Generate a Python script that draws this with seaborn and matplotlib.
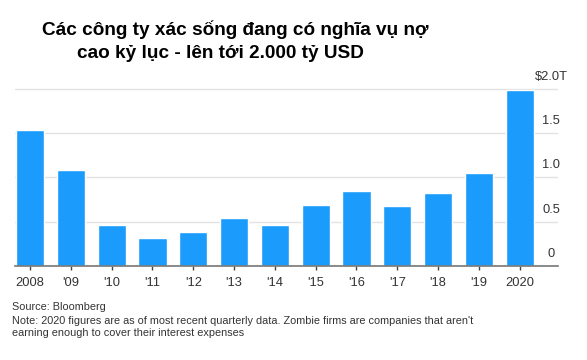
import matplotlib
matplotlib.use("Agg")
import matplotlib.pyplot as plt
import matplotlib.transforms as mtransforms
import pandas as pd
import seaborn as sns

# du lieu doc tu bieu do (nghin ty USD)
years = ["2008", "'09", "'10", "'11", "'12", "'13", "'14", "'15", "'16", "'17", "'18", "'19", "2020"]
debt = [1.54, 1.08, 0.455, 0.316, 0.387, 0.54, 0.455, 0.69, 0.85, 0.677, 0.827, 1.05, 1.985]
ytick_vals = [0, 0.5, 1.0, 1.5, 2.0]
ytick_labels = ["0", "0.5", "1.0", "1.5", "\\$2.0T"]

title_1 = "Các công ty xác sống đang có nghĩa vụ nợ"
title_2 = "cao kỷ lục - lên tới 2.000 tỷ USD"
source = "Source: Bloomberg"
note = ("Note: 2020 figures are as of most recent quarterly data. Zombie firms are companies that aren't\n"
        "earning enough to cover their interest expenses")

sns.set_style("white")
plt.rcParams["font.family"] = ["Liberation Sans", "DejaVu Sans"]

df = pd.DataFrame({"year": years, "debt": debt})

fig = plt.figure(figsize=(5.87, 3.6), dpi=100)
ax = fig.add_axes([15 / 587, 94.3 / 360, 543 / 587, 178.5 / 360])

sns.barplot(data=df, x="year", y="debt", order=years, color="#1b9cfc",
            saturation=1, width=0.69, ax=ax)

ax.set_xlim(-0.37, 12.94)
ax.set_ylim(0, 2.02)
ax.set_xlabel("")
ax.set_ylabel("")

# luoi ngang + nhan truc y ben phai
ax.set_yticks(ytick_vals)
ax.yaxis.grid(True, color="#e3e3e3", linewidth=1)
ax.set_axisbelow(True)
ax.tick_params(axis="y", left=False, right=False, labelleft=False)
off = mtransforms.offset_copy(ax.get_yaxis_transform(), fig=fig, x=0, y=12, units="dots")
for v, lab in zip(ytick_vals, ytick_labels):
    ax.text(0.987, v, lab, transform=off, ha="center", va="center",
            fontsize=9.3, color="#333333")

for s in ["top", "right", "left"]:
    ax.spines[s].set_visible(False)
ax.spines["bottom"].set_color("#777777")
ax.spines["bottom"].set_linewidth(1.2)
ax.tick_params(axis="x", bottom=True, length=3, width=1, color="#444444",
               pad=5, labelsize=9.3, labelcolor="#333333")

fig.text(235 / 587, 1 - 30 / 360, title_1, ha="center", va="center",
         fontsize=13.7, fontweight="bold", color="black")
fig.text(220 / 587, 1 - 53 / 360, title_2, ha="center", va="center",
         fontsize=13.7, fontweight="bold", color="black")

fig.text(12 / 587, 1 - 307 / 360, source, ha="left", va="center",
         fontsize=7.8, color="#333333")
fig.text(12 / 587, 1 - 327 / 360, note, ha="left", va="center",
         fontsize=7.8, color="#333333", linespacing=1.25)

fig.savefig("out.png", dpi=100)
